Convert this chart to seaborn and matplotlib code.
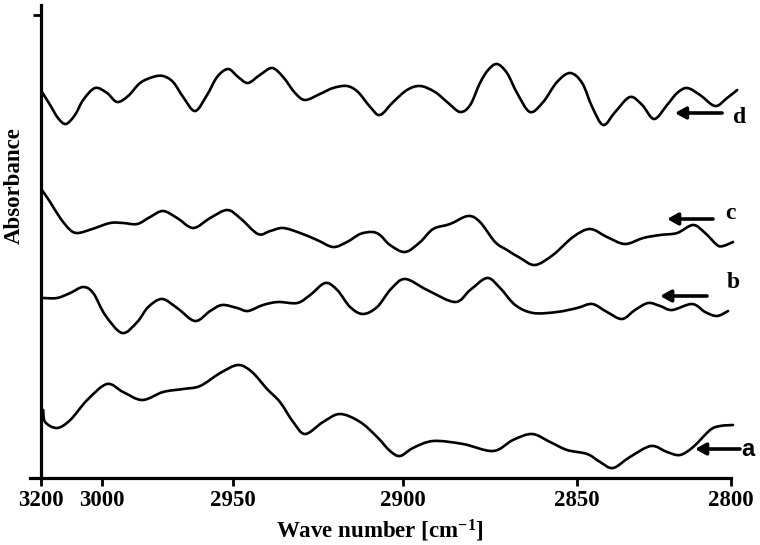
import numpy as np
import pandas as pd
import seaborn as sns
import matplotlib.pyplot as plt
from matplotlib.path import Path
from matplotlib.patches import PathPatch

# wave numbers (cm-1) and absorbance (arbitrary units, traces offset)
wn_a = [3018.7, 3018.1, 3014.3, 3010.1, 3004.7, 2998.4, 2993.3, 2987.2, 2980.6, 2974.2,
        2968.8, 2962.4, 2956.7, 2952.3, 2947.5, 2943.4, 2939.2, 2935.4, 2929.7, 2924.3,
        2917.9, 2912.5, 2908.4, 2905.2, 2901.1, 2894.7, 2885.2, 2875.6, 2869.3, 2863.2,
        2857.5, 2852.1, 2845.7, 2841.6, 2837.5, 2832.1, 2825.4, 2820.3, 2816.2, 2812.0,
        2806.6, 2803.4, 2799.3]
abs_a = [0.68, 0.56, 0.50, 0.58, 0.78, 0.94, 0.86, 0.78, 0.86, 0.89,
         0.92, 1.05, 1.13, 1.06, 0.89, 0.76, 0.56, 0.44, 0.56, 0.64,
         0.56, 0.41, 0.27, 0.22, 0.30, 0.37, 0.34, 0.27, 0.38, 0.44,
         0.36, 0.28, 0.24, 0.16, 0.10, 0.21, 0.32, 0.26, 0.23, 0.31,
         0.48, 0.52, 0.53]

wn_b = [3018.7, 3014.3, 3010.1, 3006.0, 3002.8, 2999.0, 2993.6, 2988.8, 2985.3, 2980.9,
        2976.1, 2970.4, 2965.6, 2961.8, 2957.0, 2953.6, 2948.8, 2944.0, 2937.9, 2933.8,
        2929.0, 2925.2, 2921.1, 2917.0, 2912.5, 2908.1, 2903.6, 2896.6, 2887.7, 2882.9,
        2877.5, 2873.4, 2868.6, 2862.9, 2855.3, 2848.9, 2844.1, 2839.4, 2834.6, 2830.5,
        2826.3, 2822.5, 2818.7, 2812.3, 2808.2, 2804.4, 2800.9]
abs_b = [1.80, 1.80, 1.85, 1.91, 1.85, 1.63, 1.45, 1.56, 1.71, 1.79,
         1.70, 1.57, 1.67, 1.73, 1.70, 1.67, 1.73, 1.76, 1.75, 1.83,
         1.95, 1.88, 1.71, 1.64, 1.71, 1.89, 1.99, 1.88, 1.76, 1.88,
         2.00, 1.90, 1.73, 1.65, 1.66, 1.70, 1.74, 1.66, 1.59, 1.68,
         1.75, 1.72, 1.68, 1.74, 1.66, 1.62, 1.67]

wn_c = [3019.1, 3016.5, 3013.3, 3010.1, 3007.6, 3003.1, 2997.4, 2993.3, 2988.8, 2984.7,
        2980.6, 2976.1, 2971.0, 2965.6, 2960.2, 2956.1, 2950.4, 2946.5, 2942.4, 2937.0,
        2931.6, 2926.5, 2922.1, 2917.9, 2914.1, 2911.6, 2908.4, 2903.6, 2898.8, 2894.7,
        2889.3, 2883.6, 2879.8, 2875.0, 2871.2, 2867.0, 2862.3, 2856.6, 2850.2, 2844.8,
        2839.4, 2833.7, 2827.9, 2822.5, 2817.1, 2812.0, 2808.2, 2804.4, 2802.5, 2799.3]
abs_c = [2.88, 2.76, 2.60, 2.48, 2.45, 2.49, 2.55, 2.55, 2.54, 2.61,
         2.67, 2.60, 2.50, 2.60, 2.68, 2.60, 2.44, 2.47, 2.50, 2.45,
         2.38, 2.31, 2.36, 2.44, 2.46, 2.43, 2.33, 2.26, 2.36, 2.49,
         2.54, 2.62, 2.56, 2.36, 2.28, 2.20, 2.13, 2.23, 2.41, 2.49,
         2.41, 2.34, 2.40, 2.43, 2.45, 2.53, 2.45, 2.33, 2.32, 2.36]

wn_d = [3019.1, 3016.5, 3014.0, 3011.5, 3008.6, 3006.0, 3002.2, 2998.4, 2995.2, 2991.7,
        2987.9, 2983.8, 2980.6, 2977.4, 2974.2, 2970.4, 2966.6, 2963.4, 2959.9, 2956.7,
        2953.6, 2949.8, 2945.9, 2942.4, 2938.6, 2935.4, 2930.7, 2926.5, 2922.1, 2918.6,
        2914.7, 2911.6, 2907.4, 2903.0, 2898.8, 2894.1, 2889.9, 2886.1, 2882.9, 2879.8,
        2877.2, 2874.4, 2871.2, 2868.0, 2863.9, 2859.7, 2855.3, 2851.1, 2847.3, 2844.1,
        2840.6, 2836.8, 2832.1, 2828.2, 2824.4, 2820.3, 2817.1, 2813.9, 2809.8, 2805.0,
        2801.2, 2798.0]
abs_d = [3.86, 3.73, 3.60, 3.54, 3.63, 3.78, 3.90, 3.85, 3.76, 3.82,
         3.95, 4.01, 4.02, 3.96, 3.81, 3.67, 3.83, 4.01, 4.09, 4.01,
         3.95, 4.03, 4.10, 4.01, 3.85, 3.78, 3.84, 3.90, 3.92, 3.86,
         3.71, 3.63, 3.76, 3.88, 3.92, 3.86, 3.75, 3.66, 3.73, 3.95,
         4.08, 4.14, 4.05, 3.85, 3.66, 3.76, 3.96, 4.05, 3.95, 3.71,
         3.53, 3.66, 3.81, 3.73, 3.59, 3.73, 3.85, 3.90, 3.83, 3.72,
         3.80, 3.88]

tick_pos = [3019.4, 3000, 2958.3, 2904.3, 2848.9, 2800]
tick_labels = ["3200", "3000", "2950", "2900", "2850", "2800"]

# curve tags: name, arrow tail x, arrow head x, arrow y, text x, text y
tags = [
    ("a", 2797.1, 2811.4, 0.29, 2794.6, 0.29),
    ("b", 2807.6, 2822.5, 1.82, 2799.3, 1.95),
    ("c", 2805.7, 2820.3, 2.59, 2800.3, 2.65),
    ("d", 2802.8, 2817.8, 3.65, 2797.1, 3.61),
]


def smooth_path(xy):
    # Catmull-Rom through the read points, drawn as cubic Bezier segments
    p = np.vstack([xy[0], xy, xy[-1]])
    verts = [p[1]]
    codes = [Path.MOVETO]
    for i in range(1, len(p) - 2):
        c1 = p[i] + (p[i + 1] - p[i - 1]) / 6
        c2 = p[i + 1] - (p[i + 2] - p[i]) / 6
        verts += [c1, c2, p[i + 1]]
        codes += [Path.CURVE4] * 3
    return Path(verts, codes)


sns.set_style("ticks")
plt.rcParams["font.family"] = ["Liberation Serif", "DejaVu Serif"]
plt.rcParams["font.weight"] = "bold"
plt.rcParams["text.color"] = "black"
plt.rcParams["axes.labelcolor"] = "black"
plt.rcParams["mathtext.fontset"] = "custom"
plt.rcParams["mathtext.rm"] = "Liberation Serif:bold"
plt.rcParams["mathtext.it"] = "Liberation Serif:bold"

fig = plt.figure(figsize=(7.6, 5.45), dpi=100)
ax = fig.add_axes([30 / 760, 67 / 545, 710 / 760, 473 / 545])

curves = {"a": (wn_a, abs_a), "b": (wn_b, abs_b), "c": (wn_c, abs_c), "d": (wn_d, abs_d)}
for name, (xs, ys) in curves.items():
    df = pd.DataFrame({"wn": xs, "absorbance": ys})
    sns.lineplot(data=df, x="wn", y="absorbance", ax=ax, color="black",
                 linewidth=1.9, estimator=None)
    line = ax.lines[-1]
    line.set_visible(False)
    ax.add_patch(PathPatch(smooth_path(line.get_xydata()), facecolor="none",
                           edgecolor="black", linewidth=1.9, capstyle="round",
                           joinstyle="round"))

ax.set_xlim(3022.9, 2797.1)
ax.set_ylim(0, 4.73)

for side in ["top", "right"]:
    ax.spines[side].set_visible(False)
ax.spines["left"].set_position(("data", 3019.4))
ax.spines["left"].set_linewidth(2.3)
ax.spines["bottom"].set_linewidth(2.3)
ax.spines["bottom"].set_bounds(3022.9, 2800)
ax.spines["left"].set_color("black")
ax.spines["bottom"].set_color("black")

ax.set_xticks(tick_pos)
ax.set_xticklabels(tick_labels, fontsize=16.5, fontweight="bold")
ax.tick_params(axis="x", direction="out", length=6, width=2, pad=3,
               colors="black", labelcolor="black")
ax.set_yticks([4.63])
ax.set_yticklabels([])
ax.tick_params(axis="y", direction="out", length=6, width=2, colors="black")

ax.set_xlabel("Wave number [cm$^{-1}$]", fontsize=16.5, fontweight="bold", color="black")
ax.xaxis.set_label_coords(0.493, -0.085)
ax.set_ylabel("")
ax.text(-0.022, 0.619, "Absorbance", transform=ax.transAxes, rotation=90,
        ha="center", va="center", fontsize=16.5, fontweight="bold", color="black")

for name, x0, x1, y, tx, ty in tags:
    ax.annotate("", xy=(x1, y), xytext=(x0, y),
                arrowprops=dict(arrowstyle="-|>,head_length=0.45,head_width=0.25",
                                lw=2.6, color="black", shrinkA=0, shrinkB=0,
                                mutation_scale=14),
                annotation_clip=False)
    family = ["Liberation Sans"] if name == "a" else ["Liberation Serif"]
    ax.text(tx, ty, name, ha="center", va="center", fontsize=17,
            fontweight="bold", family=family, color="black")

fig.savefig("out.png", dpi=100)
